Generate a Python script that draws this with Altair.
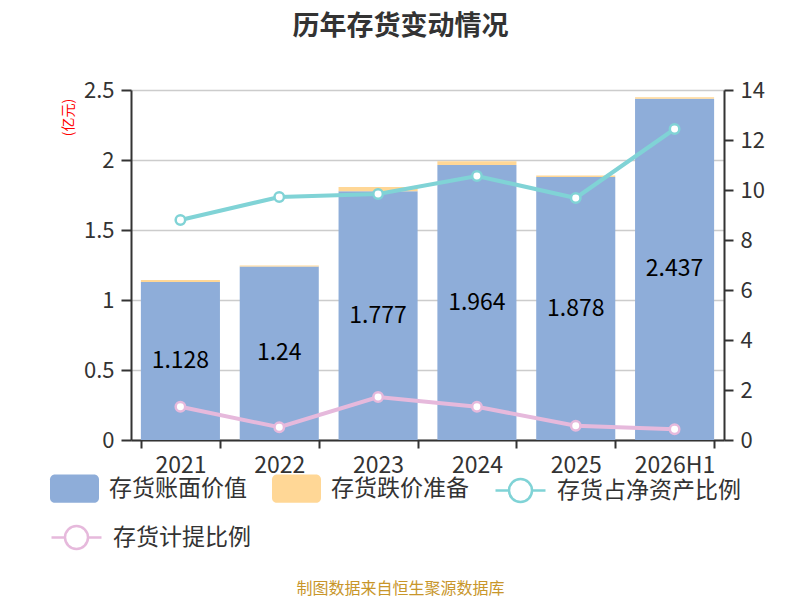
import altair as alt
import pandas as pd

years = ["2021", "2022", "2023", "2024", "2025", "2026H1"]
book_value = [1.128, 1.24, 1.777, 1.964, 1.878, 2.437]
impairment = [0.015, 0.0064, 0.031, 0.0265, 0.011, 0.0105]
net_asset_ratio = [8.8, 9.72, 9.84, 10.56, 9.68, 12.44]
provision_ratio = [1.33, 0.51, 1.72, 1.33, 0.57, 0.43]

S_BOOK = "存货账面价值"
S_RES = "存货跌价准备"
S_NET = "存货占净资产比例"
S_PROV = "存货计提比例"

BLUE = "#8EADD9"
ORANGE = "#FFD796"
CYAN = "#80D3D6"
PINK = "#E6B9DC"
FONT = "Noto Sans CJK SC"
DARK = "#333333"

bars_df = pd.DataFrame({
    "year": years * 2,
    "series": [S_BOOK] * len(years) + [S_RES] * len(years),
    "value": book_value + impairment,
    "order": [0] * len(years) + [1] * len(years),
})
lab_df = pd.DataFrame({
    "year": years,
    "mid": [v / 2 for v in book_value],
    "label": [f"{v:g}" for v in book_value],
})
net_df = pd.DataFrame({"year": years, "value": net_asset_ratio, "series": S_NET})
prov_df = pd.DataFrame({"year": years, "value": provision_ratio, "series": S_PROV})

RECT_PATH = ("M-0.8,-0.58L0.8,-0.58A0.2,0.2,0,0,1,1,-0.38L1,0.38A0.2,0.2,0,0,1,0.8,0.58"
             "L-0.8,0.58A0.2,0.2,0,0,1,-1,0.38L-1,-0.38A0.2,0.2,0,0,1,-0.8,-0.58Z")
LINE_PATH = ("M-1,0L-0.46,0M0.46,0L1,0M0.46,0A0.46,0.46,0,1,1,-0.46,0"
             "A0.46,0.46,0,1,1,0.46,0Z")

x_enc = alt.X(
    "year:N", sort=years, title="制图数据来自恒生聚源数据库",
    scale=alt.Scale(paddingInner=0.2, paddingOuter=0.1),
    axis=alt.Axis(
        labelAngle=0, tickBand="extent", tickSize=8, tickColor=DARK, tickWidth=2,
        domainColor=DARK, domainWidth=2, labelFontSize=23, labelColor=DARK,
        labelFont=FONT, labelBaseline="middle", labelPadding=17,
        titleColor="#C8962A", titleFont=FONT, titleFontSize=16, titleFontWeight="normal",
        titleX=269, titleY=148, titleAlign="center", titleBaseline="middle", titleAnchor="start",
    ),
)

left_y_scale = alt.Scale(domain=[0, 2.5], nice=False)
left_axis = alt.Axis(
    values=[0, 0.5, 1, 1.5, 2, 2.5], format="~g", labelFontSize=22, labelColor=DARK,
    labelFont=FONT, tickSize=10, tickColor=DARK, tickWidth=2, labelPadding=7,
    domainColor=DARK, domainWidth=2, grid=True, gridColor="#CCCCCC", gridWidth=1.5,
    titleColor="#FF0000", titleFont=FONT, titleFontSize=14, titleFontWeight="normal",
    titleAngle=-90, titleX=-63, titleY=27, titleAlign="center", titleBaseline="middle",
)

bars = alt.Chart(bars_df).mark_bar().encode(
    x=x_enc,
    y=alt.Y("value:Q", stack="zero", title="(亿元)", scale=left_y_scale, axis=left_axis),
    fill=alt.Fill(
        "series:N",
        scale=alt.Scale(domain=[S_BOOK, S_RES], range=[BLUE, ORANGE]),
        legend=alt.Legend(
            orient="none", legendX=-81, legendY=374, direction="horizontal", title=None,
            symbolType=RECT_PATH, symbolSize=2400, symbolStrokeWidth=0,
            labelFontSize=23, labelColor=DARK, labelFont=FONT, labelOffset=10,
            columnPadding=25, labelLimit=0,
        ),
    ),
    order=alt.Order("order:Q"),
)

labels = alt.Chart(lab_df).mark_text(fontSize=23, font=FONT, color="#000000").encode(
    x=x_enc,
    y=alt.Y("mid:Q", title="(亿元)", scale=left_y_scale, axis=left_axis),
    text="label:N",
)

left = alt.layer(bars, labels)

right_y_scale = alt.Scale(domain=[0, 14], nice=False)
right_axis = alt.Axis(
    orient="right", values=[0, 2, 4, 6, 8, 10, 12, 14], labelFontSize=22, labelColor=DARK,
    labelFont=FONT, tickSize=9, tickColor=DARK, tickWidth=2, labelPadding=7,
    domainColor=DARK, domainWidth=2, grid=False,
    titleColor="#FF0000", titleFont=FONT, titleFontSize=14, titleFontWeight="normal",
    titleAngle=90, titleX=79, titleY=10, titleAlign="center", titleBaseline="middle",
)


def ratio_line(df, name, color, ly, lx):
    return alt.Chart(df).mark_line(
        strokeWidth=4,
        point=alt.OverlayMarkDef(filled=True, fill="white", size=90, strokeWidth=2.5),
    ).encode(
        x=x_enc,
        y=alt.Y("value:Q", title="(%)", scale=right_y_scale, axis=right_axis),
        stroke=alt.Stroke(
            "series:N",
            scale=alt.Scale(domain=[name], range=[color]),
            legend=alt.Legend(
                orient="none", legendX=lx, legendY=ly, title=None,
                symbolType=LINE_PATH, symbolSize=2500, symbolStrokeWidth=2.5,
                symbolFillColor="white", labelLimit=0,
                labelFontSize=23, labelColor=DARK, labelFont=FONT, labelOffset=10,
            ),
        ),
    )


net_line = ratio_line(net_df, S_NET, CYAN, 374, 363)
prov_line = ratio_line(prov_df, S_PROV, PINK, 421, -81)
right = alt.layer(net_line, prov_line).resolve_scale(stroke="independent")

chart = alt.layer(left, right).resolve_scale(y="independent").properties(
    width=593, height=350,
    autosize=alt.AutoSizeParams(type="none"),
    padding={"left": 123, "top": 82, "right": 68, "bottom": 157},
    title=alt.TitleParams(
        "历年存货变动情况", fontSize=27, fontWeight="bold", color=DARK, font=FONT,
        anchor="middle", frame="group", dx=-27, offset=25, baseline="middle",
    ),
).configure_view(stroke=None).configure(background="white")

chart.save("out.html", embed_options={"renderer": "svg", "actions": False})
